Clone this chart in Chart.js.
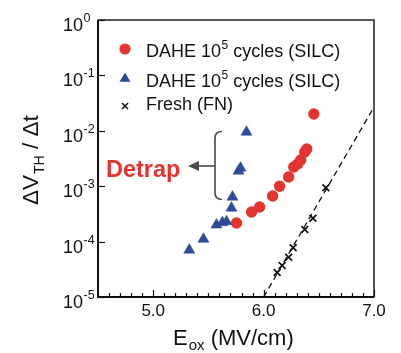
<!DOCTYPE html>
<html>
<head>
<meta charset="utf-8">
<script src="https://cdn.jsdelivr.net/npm/chart.js@4.4.1/dist/chart.umd.min.js"></script>
<style>
html,body{margin:0;padding:0;background:#fff;}
#wrap{width:401px;height:353px;}
</style>
</head>
<body>
<div id="wrap"><canvas id="c" width="401" height="353"></canvas></div>
<script>
// ---- data ----
const silcCircleX = [5.755, 5.891, 5.964, 6.082, 6.145, 6.227, 6.273, 6.309, 6.336, 6.373, 6.391, 6.455];
const silcCircleY = [2.17e-4, 3.42e-4, 4.2e-4, 6.65e-4, 1.0e-3, 1.47e-3, 2.22e-3, 2.52e-3, 2.97e-3, 4.14e-3, 4.69e-3, 2.01e-2];
const silcTriX = [5.327, 5.455, 5.573, 5.627, 5.664, 5.709, 5.718, 5.773, 5.791, 5.845];
const silcTriY = [7.05e-5, 1.11e-4, 2.0e-4, 2.21e-4, 2.3e-4, 4.04e-4, 6.38e-4, 1.88e-3, 2.13e-3, 9.5e-3];
const freshX = [6.123, 6.168, 6.227, 6.268, 6.373, 6.447, 6.564];
const freshY = [2.77e-5, 3.7e-5, 5.21e-5, 7.76e-5, 1.65e-4, 2.64e-4, 9.35e-4];
const fitX = [6.0, 7.0];
const fitY = [1e-5, 2.68e-2];
const xTickLabels = ["5.0", "6.0", "7.0"];
const yTickExponents = ["0", "-1", "-2", "-3", "-4", "-5"];
const legendLabels = ["DAHE 10|5| cycles (SILC)", "DAHE 10|5| cycles (SILC)", "Fresh (FN)"];

const RED = '#e3342f', BLUE = '#2d4a9b', BLACK = '#111';
const FONT = '"Liberation Sans", Arial, Helvetica, sans-serif';

const pts = (xs, ys) => xs.map((x, i) => ({x: x, y: ys[i]}));

const deco = {
  id: 'deco',
  afterDraw(chart) {
    const ctx = chart.ctx, a = chart.chartArea;
    const xs = chart.scales.x, ys = chart.scales.y;
    ctx.save();
    // frame
    ctx.strokeStyle = '#111';
    ctx.lineWidth = 1.4;
    ctx.strokeRect(a.left, a.top, a.right - a.left, a.bottom - a.top);
    ctx.lineWidth = 2;
    ctx.beginPath();
    ctx.moveTo(a.left, a.top); ctx.lineTo(a.left, a.bottom); ctx.lineTo(a.right, a.bottom);
    ctx.stroke();
    // x ticks (inward) every 0.1
    ctx.lineWidth = 1.2;
    for (let i = 0; i <= 25; i++) {
      const v = 4.5 + i * 0.1;
      const px = Math.round(xs.getPixelForValue(v)) + 0.5;
      const major = (i % 10 === 5);
      ctx.beginPath();
      ctx.moveTo(px, a.bottom);
      ctx.lineTo(px, a.bottom - (major ? 7 : 4));
      ctx.stroke();
    }
    // y ticks (inward) at decades
    for (let k = 0; k <= 5; k++) {
      const py = Math.round(ys.getPixelForValue(Math.pow(10, -k))) + 0.5;
      ctx.beginPath();
      ctx.moveTo(a.left, py);
      ctx.lineTo(a.left + 7, py);
      ctx.stroke();
    }
    // x tick labels
    ctx.fillStyle = '#111';
    ctx.font = '17px ' + FONT;
    ctx.textAlign = 'center';
    ctx.textBaseline = 'alphabetic';
    xTickLabels.forEach(t => {
      ctx.fillText(t, xs.getPixelForValue(parseFloat(t)), 316);
    });
    // y tick labels 10^n
    yTickExponents.forEach(e => {
      const py = ys.getPixelForValue(Math.pow(10, parseInt(e)));
      ctx.font = '18px ' + FONT;
      ctx.textAlign = 'right';
      ctx.fillText('10', 83, py + 11);
      ctx.font = '12.5px ' + FONT;
      ctx.textAlign = 'left';
      ctx.fillText(e, 83.5, py + 2);
    });
    // x title
    ctx.textAlign = 'left';
    ctx.font = '22px ' + FONT;
    ctx.fillText('E', 173, 345);
    let w = ctx.measureText('E').width;
    ctx.font = '15px ' + FONT;
    ctx.fillText('ox', 173 + w + 1, 350);
    let w2 = ctx.measureText('ox').width;
    ctx.font = '22px ' + FONT;
    ctx.fillText(' (MV/cm)', 173 + w + 1 + w2, 345);
    // y title (rotated)
    ctx.save();
    ctx.translate(38, 205);
    ctx.rotate(-Math.PI / 2);
    ctx.font = '22.5px ' + FONT;
    ctx.fillText('\u0394V', 0, 0);
    let t1 = ctx.measureText('\u0394V').width;
    ctx.font = '14px ' + FONT;
    ctx.fillText('TH', t1 + 1, 6);
    let t2 = ctx.measureText('TH').width;
    ctx.font = '22.5px ' + FONT;
    ctx.fillText(' / \u0394t', t1 + 1 + t2, 0);
    ctx.restore();
    // legend
    const rows = [56.5, 86.5, 110];
    const mk = [49, 78, 106];
    // circle
    ctx.fillStyle = RED;
    ctx.beginPath(); ctx.arc(125, mk[0], 5.6, 0, Math.PI * 2); ctx.fill();
    // triangle
    ctx.fillStyle = BLUE;
    ctx.beginPath();
    ctx.moveTo(125, mk[1] - 5.5); ctx.lineTo(130.5, mk[1] + 3.8); ctx.lineTo(119.5, mk[1] + 3.8); ctx.closePath(); ctx.fill();
    // x mark
    ctx.strokeStyle = BLACK; ctx.lineWidth = 1.5;
    ctx.beginPath();
    ctx.moveTo(122, mk[2] - 3); ctx.lineTo(128, mk[2] + 3);
    ctx.moveTo(128, mk[2] - 3); ctx.lineTo(122, mk[2] + 3);
    ctx.stroke();
    ctx.fillStyle = '#111';
    legendLabels.forEach((lab, i) => {
      const parts = lab.split('|');
      let x = 146;
      parts.forEach((p, j) => {
        if (j % 2 === 1) {
          ctx.font = '12px ' + FONT;
          ctx.fillText(p, x + 0.5, rows[i] - 8);
          x += ctx.measureText(p).width + 0.5;
        } else {
          ctx.font = '18px ' + FONT;
          ctx.fillText(p, x, rows[i]);
          x += ctx.measureText(p).width;
        }
      });
    });
    // Detrap annotation
    ctx.fillStyle = RED;
    ctx.font = 'bold 23.5px ' + FONT;
    ctx.fillText('Detrap', 106, 177);
    ctx.strokeStyle = '#474c52';
    ctx.fillStyle = '#474c52';
    ctx.lineWidth = 1.6;
    ctx.beginPath();
    ctx.moveTo(222, 131.5);
    ctx.quadraticCurveTo(215, 131.5, 215, 138);
    ctx.lineTo(215, 193);
    ctx.quadraticCurveTo(215, 199.5, 222, 199.5);
    ctx.stroke();
    ctx.beginPath();
    ctx.moveTo(215, 166); ctx.lineTo(197, 166); ctx.stroke();
    ctx.beginPath();
    ctx.moveTo(188, 166); ctx.lineTo(199, 161); ctx.lineTo(199, 171); ctx.closePath(); ctx.fill();
    ctx.restore();
  }
};

new Chart(document.getElementById('c'), {
  type: 'scatter',
  data: {
    datasets: [
      {
        type: 'line', data: pts(fitX, fitY), borderColor: BLACK, borderWidth: 1.3,
        borderDash: [6, 4], pointRadius: 0, fill: false, tension: 0
      },
      {
        data: pts(freshX, freshY), pointStyle: 'crossRot', pointRadius: 4.8,
        borderColor: BLACK, borderWidth: 1.7, backgroundColor: BLACK
      },
      {
        data: pts(silcTriX, silcTriY), pointStyle: 'triangle', pointRadius: 6.4,
        backgroundColor: BLUE, borderColor: BLUE, borderWidth: 0.5
      },
      {
        data: pts(silcCircleX, silcCircleY), pointStyle: 'circle', pointRadius: 5.7,
        backgroundColor: RED, borderColor: RED, borderWidth: 0
      }
    ]
  },
  options: {
    responsive: false,
    animation: false,
    events: [],
    layout: {padding: {top: 20, right: 27, left: 0, bottom: 0}},
    plugins: {legend: {display: false}, tooltip: {enabled: false}},
    scales: {
      x: {
        type: 'linear', min: 4.5, max: 7.0,
        ticks: {display: false}, grid: {display: false}, border: {display: false},
        afterFit(s) { s.height = 56; }
      },
      y: {
        type: 'logarithmic', min: 1e-5, max: 1,
        ticks: {display: false}, grid: {display: false}, border: {display: false},
        afterFit(s) { s.width = 98; }
      }
    }
  },
  plugins: [deco]
});
</script>
</body>
</html>
